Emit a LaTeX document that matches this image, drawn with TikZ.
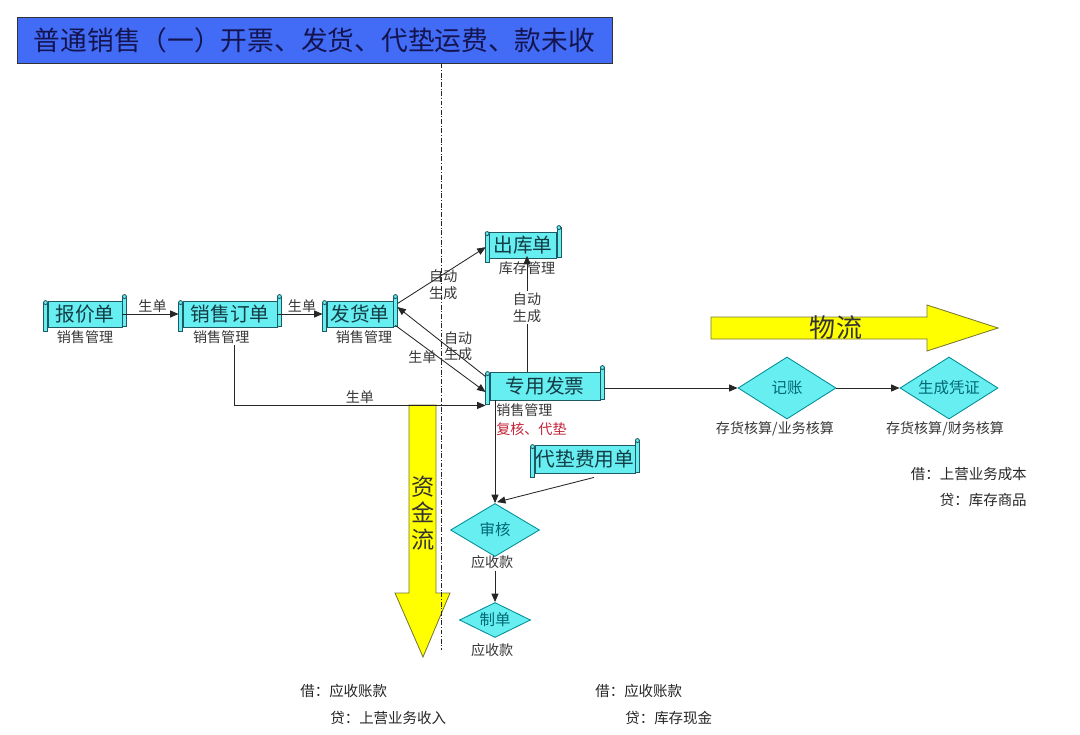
\documentclass[tikz,border=0pt]{standalone}
\usepackage{fontspec}
\setmainfont{Noto Sans CJK SC}
\usetikzlibrary{arrows.meta, positioning, shapes.geometric, calc}

\definecolor{scrollfill}{RGB}{102,238,240}
\definecolor{scrolldraw}{RGB}{30,90,100}
\definecolor{scrolltext}{RGB}{20,60,70}
\definecolor{decidedraw}{RGB}{0,140,150}
\definecolor{decidetext}{RGB}{0,105,115}
\definecolor{titleblue}{RGB}{66,108,246}
\definecolor{titletext}{RGB}{20,20,80}
\definecolor{bandfill}{RGB}{255,255,0}
\definecolor{banddraw}{RGB}{120,120,50}
\definecolor{labgray}{RGB}{55,55,55}
\definecolor{notered}{RGB}{195,35,55}

% rolled ends of a scroll node
\newcommand{\scrollends}[1]{%
  \filldraw[roll] ($(#1.north west)+(-4,2)$) rectangle ($(#1.south west)+(0,4)$);
  \filldraw[roll] ($(#1.north west)+(-2,2)$) circle[radius=2];
  \filldraw[roll] ($(#1.north east)+(0,-4)$) rectangle ($(#1.south east)+(4,-1)$);
  \filldraw[roll] ($(#1.north east)+(2,-4)$) circle[radius=2];
}

\begin{document}
\begin{tikzpicture}[
  x=0.025cm, y=-0.025cm,
  titlebar/.style={
    rectangle, fill=titleblue, draw=black!80, line width=0.6pt,
    minimum width=14.875cm, minimum height=1.15cm, inner sep=0pt,
    text=titletext, font=\fontsize{19}{22}\selectfont
  },
  scroll/.style={
    rectangle, fill=scrollfill, draw=scrolldraw, line width=0.6pt,
    inner sep=0pt, minimum height=0.65cm, text=scrolltext,
    font=\fontsize{14}{16}\selectfont
  },
  roll/.style={fill=scrollfill, draw=scrolldraw, line width=0.6pt},
  decide/.style={
    diamond, aspect=1.6, fill=scrollfill, draw=decidedraw, line width=0.6pt,
    inner sep=0pt, text=decidetext, font=\fontsize{11}{13}\selectfont
  },
  sublab/.style={font=\fontsize{10}{12}\selectfont, text=labgray, inner sep=1pt},
  lab/.style={font=\fontsize{10}{12}\selectfont, text=labgray, inner sep=1pt, align=center},
  ledger/.style={font=\fontsize{10.3}{12}\selectfont, text=black!85, inner sep=0pt},
  arr/.style={-{Triangle[length=6pt, width=5pt]}, line width=0.6pt, draw=black!85},
  band/.style={fill=bandfill, draw=banddraw, line width=0.6pt},
  bandtext/.style={text=black!80, inner sep=0pt},
  axisline/.style={line width=0.6pt, draw=black!85,
    dash pattern=on 3.5pt off 1.2pt on 0.7pt off 1.2pt}
]
  \fill[white] (0,0) rectangle (1080,735);
  \useasboundingbox (0,0) rectangle (1080,735);

  % title
  \node[titlebar] (title) at (314.5,40) {普通销售（一）开票、发货、代垫运费、款未收};

  % flow bands
  \filldraw[band] (711,317) -- (927,317) -- (927,305) -- (998,328) -- (927,351) -- (927,339) -- (711,339) -- cycle;
  \node[bandtext, font=\fontsize{18.5}{20}\selectfont] (wl) at (836,328) {物流};
  \filldraw[band] (409,405) -- (436,405) -- (436,593) -- (450,593) -- (423,657) -- (395,593) -- (409,593) -- cycle;
  \node[bandtext, align=center, font=\fontsize{16.5}{19}\selectfont] (zjl) at (423,513) {资\\金\\流};

  % documents
  \node[scroll, minimum width=1.85cm] (bj) at (85,314) {报价单};
  \node[scroll, minimum width=2.35cm] (dd) at (230,314) {销售订单};
  \node[scroll, minimum width=1.65cm] (fh) at (360,314) {发货单};
  \node[scroll, minimum width=1.675cm] (ck) at (523,245) {出库单};
  \node[scroll, minimum width=2.75cm, minimum height=0.7cm] (fp) at (545,386) {专用发票};
  \node[scroll, minimum width=2.5cm, minimum height=0.7cm] (dz) at (585,459) {代垫费用单};
  \scrollends{bj}
  \scrollends{dd}
  \scrollends{fh}
  \scrollends{ck}
  \scrollends{fp}
  \scrollends{dz}

  \node[sublab, below=1pt of bj] (bjl) {销售管理};
  \node[sublab, below=1pt of dd, xshift=-0.22cm] (ddl) {销售管理};
  \node[sublab, below=1pt of fh, xshift=0.1cm] (fhl) {销售管理};
  \node[sublab, below=1pt of ck, xshift=0.1cm] (ckl) {库存管理};
  \node[sublab, anchor=north west] (fpl) at ($(fp.south west)+(5,2)$) {销售管理};
  \node[sublab, text=notered, anchor=north west] (fpr) at ($(fpl.south west)+(0,2)$) {复核、代垫};

  % checks
  \node[decide, minimum width=2.225cm, minimum height=1.325cm] (sh) at (495,530) {审核};
  \node[decide, minimum width=1.775cm, minimum height=0.875cm] (zd) at (495,620) {制单};
  \node[decide, minimum width=2.45cm, minimum height=1.55cm] (jz) at (787,388) {记账};
  \node[decide, minimum width=2.45cm, minimum height=1.55cm] (pz) at (949,388) {生成凭证};
  \node[sublab, below=-2pt of sh, xshift=-0.07cm] (shl) {应收款};
  \node[sublab, below=3pt of zd, xshift=-0.07cm] (zdl) {应收款};
  \node[sublab, below=0pt of jz, xshift=-0.3cm] (jzl) {存货核算/业务核算};
  \node[sublab, below=0pt of pz, xshift=-0.1cm] (pzl) {存货核算/财务核算};

  % connectors
  \draw[arr, shorten >=0.1cm] (bj.east) -- (dd.west) node[lab, midway, above] (e1) {生单};
  \draw[arr, shorten >=0.1cm] (dd.east) -- (fh.west) node[lab, midway, above] (e2) {生单};
  \draw[arr, shorten >=0.1cm] ($(fh.north east)+(4,3)$) -- (ck.west)
    node[lab, midway, yshift=-0.25cm] (e3) {自动\\生成};
  \draw[arr] ($(fp.north west)+(-4,5)$) -- ($(fh.east)+(4,-7)$)
    node[lab, pos=0.31, yshift=0.22cm] (e4) {自动\\生成};
  \draw[arr] ($(fh.south east)+(2,-2)$) -- ($(fp.west)+(-4,6)$)
    node[lab, pos=0.3, yshift=-0.3cm] (e5) {生单};
  \draw[arr] ($(ddl.south)+(13,0)$) |- ($(fp.south west)+(-4,5)$)
    node[lab, pos=0.75, above] (e6) {生单};
  \draw[arr] (fp.north -| ckl.north) -- ($(ckl.north)+(0,-4)$)
    node[lab, midway, yshift=0.15cm, fill=white] (e7) {自动\\生成};
  \draw[arr] ($(fp.east)+(4,2)$) -- (jz.west);
  \draw[arr] (jz.east) -- (pz.west);
  \draw[arr] (fp.south -| sh.north) -- (sh.north);
  \draw[arr] ($(dz.south)+(9,4)$) -- ($(sh.north)+(2,-1)$);
  \draw[arr] (shl.south -| zd.north) -- (zd.north);

  % divider
  \draw[axisline] (title.south -| 441,0) -- (441,650);

  % entries
  \node[ledger, anchor=east] (c1) at (1027,474) {借：上营业务成本};
  \node[ledger, anchor=east] (c2) at (1027,500) {贷：库存商品};
  \node[ledger, anchor=west] (c3) at (300,691) {借：应收账款};
  \node[ledger, anchor=west] (c4) at (330,718) {贷：上营业务收入};
  \node[ledger, anchor=west] (c5) at (595,691) {借：应收账款};
  \node[ledger, anchor=west] (c6) at (625,718) {贷：库存现金};
\end{tikzpicture}
\end{document}
